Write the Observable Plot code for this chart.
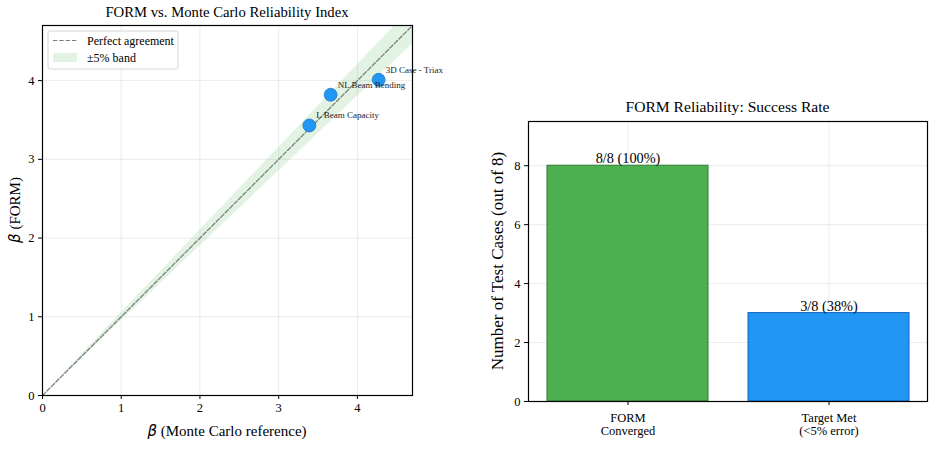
<!DOCTYPE html>
<html>
<head>
<meta charset="utf-8">
<script src="https://cdn.jsdelivr.net/npm/d3@7"></script>
<script src="https://cdn.jsdelivr.net/npm/@observablehq/plot@0.6"></script>
<style>
  body { margin: 0; background: #fff; }
  #wrap { position: relative; width: 936px; height: 469px; font-family: "Liberation Serif", "DejaVu Serif", serif; }
  #left, #right { position: absolute; top: 0; }
  #left { left: 0; }
  #right { left: 470px; }
  svg { font-family: "Liberation Serif", "DejaVu Serif", serif; }
</style>
</head>
<body>
<div id="wrap"><div id="left"></div><div id="right"></div></div>
<script>
// ---------- data ----------
const caseNames = ["L Beam Capacity", "NL Beam Bending", "3D Case - Triax"];
const betaMC    = [3.39, 3.66, 4.27];
const betaFORM  = [3.43, 3.82, 4.01];
const axisMax   = 4.7;
const diagX     = [0, 5];
const bandFrac  = 0.05;
const ticks1    = [0, 1, 2, 3, 4];

const barCats   = ["FORM\nConverged", "Target Met\n(<5% error)"];
const barValues = [8, 3];
const barLabels = ["8/8 (100%)", "3/8 (38%)"];
const barFill   = ["#4CAF50", "#2196F3"];
const barEdge   = ["#2E7D32", "#1565C0"];
const totalCases = 8;
const ticks2    = [0, 2, 4, 6, 8];

const points = caseNames.map((n, i) => ({name: n, mc: betaMC[i], form: betaFORM[i]}));
const diag = diagX.map(x => ({x, y: x, lo: x * (1 - bandFrac), hi: x * (1 + bandFrac)}));
const bars = barCats.map((c, i) => ({cat: c, v: barValues[i], label: barLabels[i], fill: barFill[i], edge: barEdge[i]}));

const gridStyle = {stroke: "#b0b0b0", strokeOpacity: 0.3, strokeWidth: 0.8};
const dash = "4.4,1.9";

// ---------- left chart ----------
const W1 = 470, H1 = 469;
const left = Plot.plot({
  width: W1, height: H1,
  marginLeft: 42, marginRight: 58, marginTop: 25, marginBottom: 74,
  style: {fontFamily: "Liberation Serif", fontSize: "12.5px", color: "#000", background: "transparent"},
  x: {domain: [0, axisMax]},
  y: {domain: [0, axisMax]},
  marks: [
    Plot.gridX(ticks1, gridStyle),
    Plot.gridY(ticks1, gridStyle),
    Plot.areaY(diag, {x: "x", y1: "lo", y2: "hi", fill: "#4CAF50", fillOpacity: 0.16, clip: true}),
    Plot.line(diag, {x: "x", y: "y", stroke: "#000", strokeOpacity: 0.5, strokeWidth: 1.2, strokeDasharray: dash, clip: true}),
    Plot.dot(points, {x: "mc", y: "form", r: 6.5, fill: "#2196F3", stroke: "#1a6fc0", strokeWidth: 0.7}),
    Plot.text(points, {x: "mc", y: "form", text: "name", textAnchor: "start", dx: 7, dy: -10, fontSize: 9, fill: "#222"}),
    Plot.axisX({ticks: ticks1, tickFormat: "d", tickSize: 4, tickPadding: 4, label: null}),
    Plot.axisY({ticks: ticks1, tickFormat: "d", tickSize: 4, tickPadding: 4, label: null}),
    Plot.frame({stroke: "#000", strokeWidth: 1.2})
  ]
});
document.getElementById("left").appendChild(left);

// ---------- right chart ----------
const W2 = 466, H2 = 469;
const right = Plot.plot({
  width: W2, height: H2,
  marginLeft: 58, marginRight: 9, marginTop: 121, marginBottom: 68,
  style: {fontFamily: "Liberation Serif", fontSize: "12.5px", color: "#000", background: "transparent"},
  x: {type: "band", domain: barCats, paddingInner: 0.2, paddingOuter: 0.09},
  y: {domain: [0, totalCases * 1.1875]},
  marks: [
    Plot.gridX(barCats, {x: d => d, ...gridStyle}),
    Plot.gridY(ticks2, gridStyle),
    Plot.barY(bars, {x: "cat", y: "v", fill: "fill", stroke: "edge", strokeWidth: 1}),
    Plot.text(bars, {x: "cat", y: "v", text: "label", dy: -7, fontSize: 14.3, fill: "#000"}),
    Plot.axisX({tickSize: 4, tickPadding: 7, label: null, lineHeight: 1.05}),
    Plot.axisY({ticks: ticks2, tickFormat: "d", tickSize: 4, tickPadding: 4, label: null}),
    Plot.frame({stroke: "#000", strokeWidth: 1.2})
  ]
});
document.getElementById("right").appendChild(right);

for (const svg of [left, right]) {
  d3.select(svg).selectAll("g[aria-label$='tick label']").attr("font-size", 12.5);
}

// ---------- titles, axis labels, legend ----------
function addText(svg, x, y, opts) {
  return d3.select(svg).append("text")
    .attr("x", x).attr("y", y)
    .attr("text-anchor", opts.anchor || "middle")
    .attr("font-size", opts.size || 14)
    .attr("fill", "#000")
    .attr("transform", opts.rotate ? `rotate(-90,${x},${y})` : null);
}
// Left
{
  const xs = left.scale("x"), ys = left.scale("y");
  const cx = (xs.range[0] + xs.range[1]) / 2;
  const cy = (ys.range[0] + ys.range[1]) / 2;
  addText(left, cx, 17, {size: 14.7}).text("FORM vs. Monte Carlo Reliability Index");
  const xl = addText(left, cx, 436, {size: 15});
  xl.append("tspan").attr("font-family", "DejaVu Sans").attr("font-style", "italic").text("β");
  xl.append("tspan").text(" (Monte Carlo reference)");
  const yl = addText(left, 20, cy, {size: 15, rotate: true});
  yl.append("tspan").attr("font-family", "DejaVu Sans").attr("font-style", "italic").text("β");
  yl.append("tspan").text(" (FORM)");

  // legend
  const g = d3.select(left).append("g").attr("transform", "translate(48,31)").attr("text-anchor", "start");
  g.append("rect").attr("width", 130).attr("height", 38).attr("rx", 2)
    .attr("fill", "#fff").attr("fill-opacity", 0.8).attr("stroke", "#ccc").attr("stroke-width", 0.8);
  g.append("line").attr("x1", 5).attr("x2", 29).attr("y1", 9.5).attr("y2", 9.5)
    .attr("stroke", "#000").attr("stroke-opacity", 0.5).attr("stroke-width", 1.2).attr("stroke-dasharray", dash);
  g.append("rect").attr("x", 5).attr("y", 22).attr("width", 24).attr("height", 9)
    .attr("fill", "#4CAF50").attr("fill-opacity", 0.16);
  g.append("text").attr("x", 39).attr("y", 13.5).attr("font-size", 12).attr("text-anchor", "start").text("Perfect agreement");
  g.append("text").attr("x", 39).attr("y", 31).attr("font-size", 12).attr("text-anchor", "start").text("±5% band");
}
// Right
{
  const ys = right.scale("y");
  const cy = (ys.range[0] + ys.range[1]) / 2;
  const cx = (58 + (W2 - 9)) / 2;
  addText(right, cx, 112, {size: 15.6}).text("FORM Reliability: Success Rate");
  addText(right, 33, cy, {size: 17, rotate: true}).text("Number of Test Cases (out of 8)");
}
</script>
</body>
</html>
